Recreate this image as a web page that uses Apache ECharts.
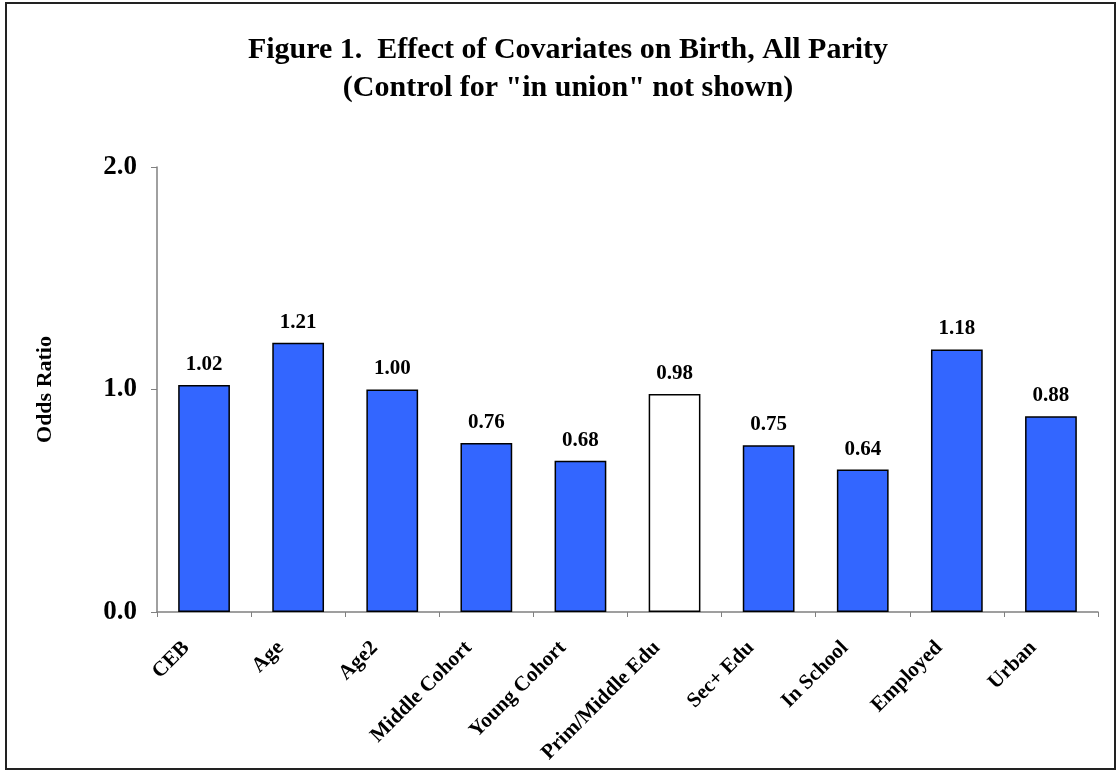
<!DOCTYPE html>
<html>
<head>
<meta charset="utf-8">
<script src="https://cdn.jsdelivr.net/npm/echarts@6/dist/echarts.min.js"></script>
<style>
  html, body { margin: 0; padding: 0; background: #fff; }
  #frame { position: absolute; left: 5px; top: 2px; width: 1107px; height: 764px; border: 2px solid #222; box-sizing: content-box; }
  #chart { position: absolute; left: 0; top: 0; width: 1116px; height: 771px; }
</style>
</head>
<body>
<div id="frame"></div>
<div id="chart"></div>
<script>
// Covariate names along the horizontal axis
const categories = ['CEB', 'Age', 'Age2', 'Middle Cohort', 'Young Cohort',
  'Prim/Middle Edu', 'Sec+ Edu', 'In School', 'Employed', 'Urban'];
// Odds ratios for each covariate
const oddsRatios = [1.02, 1.21, 1.00, 0.76, 0.68, 0.98, 0.75, 0.64, 1.18, 0.88];
// Covariates drawn as hollow bars
const hollow = ['Prim/Middle Edu'];
// Y-axis tick values
const yTicks = [0, 1, 2];

const serif = '"Liberation Serif", "Times New Roman", serif';
const chart = echarts.init(document.getElementById('chart'));

chart.setOption({
  animation: false,
  title: {
    text: 'Figure 1.  Effect of Covariates on Birth, All Parity\n(Control for "in union" not shown)',
    left: 563,
    top: 26,
    textAlign: 'center',
    textStyle: { fontFamily: serif, fontWeight: 'bold', fontSize: 30, lineHeight: 38, color: '#000' }
  },
  grid: { left: 157, right: 18, top: 167, bottom: 159, containLabel: false },
  xAxis: {
    type: 'category',
    data: categories,
    axisLine: { lineStyle: { color: '#808080', width: 1.5 } },
    axisTick: { show: true, length: 5, alignWithLabel: false, lineStyle: { color: '#808080' } },
    axisLabel: {
      rotate: 45, interval: 0, margin: 15, padding: [0, 25, 0, 0],
      fontFamily: serif, fontWeight: 'bold', fontSize: 21, color: '#000'
    }
  },
  yAxis: {
    type: 'value',
    min: yTicks[0],
    max: yTicks[yTicks.length - 1],
    interval: 1,
    name: 'Odds Ratio',
    nameLocation: 'middle',
    nameGap: 101,
    nameRotate: 90,
    nameTextStyle: { fontFamily: serif, fontWeight: 'bold', fontSize: 22, color: '#000' },
    splitLine: { show: false },
    axisLine: { show: true, lineStyle: { color: '#808080', width: 1.5 } },
    axisTick: { show: true, length: 6, lineStyle: { color: '#808080' } },
    axisLabel: {
      margin: 20,
      formatter: v => v.toFixed(1),
      fontFamily: serif, fontWeight: 'bold', fontSize: 27, color: '#000'
    }
  },
  series: [{
    type: 'bar',
    barWidth: '55%',
    data: oddsRatios.map((v, i) => ({
      value: v,
      itemStyle: { color: hollow.includes(categories[i]) ? '#ffffff' : '#3366ff' }
    })),
    itemStyle: { borderColor: '#000', borderWidth: 1.5 },
    label: {
      show: true, position: 'top', distance: 10,
      formatter: p => p.value.toFixed(2),
      fontFamily: serif, fontWeight: 'bold', fontSize: 21, color: '#000'
    }
  }]
});
</script>
</body>
</html>
